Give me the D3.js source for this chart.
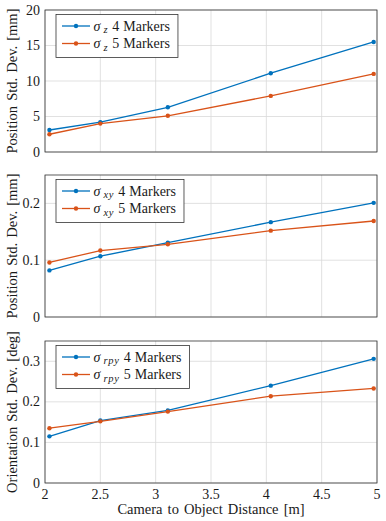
<!DOCTYPE html>
<html>
<head>
<meta charset="utf-8">
<script src="https://cdn.jsdelivr.net/npm/d3@7"></script>
<style>
body { margin: 0; background: #fff; }
</style>
</head>
<body>
<div id="chart"></div>
<script>
// distances (m) and std. devs
var distances = [2.04, 2.5, 3.11, 4.04, 4.97];
var xTicks = [2, 2.5, 3, 3.5, 4, 4.5, 5];

var sigmaZ4 = [3.1, 4.2, 6.3, 11.1, 15.5];
var sigmaZ5 = [2.5, 4.0, 5.1, 7.9, 11.0];
var sigmaXY4 = [0.082, 0.107, 0.131, 0.167, 0.201];
var sigmaXY5 = [0.096, 0.117, 0.128, 0.152, 0.169];
var sigmaRPY4 = [0.115, 0.154, 0.179, 0.240, 0.306];
var sigmaRPY5 = [0.135, 0.152, 0.176, 0.214, 0.233];

var seriesNames = ["4", "5"];
var colors = ["#0072BD", "#D95319"];

var panels = [
    { sub: "z", ylabel: "Position Std. Dev. [mm]", domain: [0, 20], ticks: [0, 5, 10, 15, 20], fmt: d3.format("d"), vals: [sigmaZ4, sigmaZ5], top: 10 },
    { sub: "xy", ylabel: "Position Std. Dev. [mm]", domain: [0, 0.25], ticks: [0, 0.1, 0.2], fmt: d => d === 0 ? "0" : d3.format(".1f")(d), vals: [sigmaXY4, sigmaXY5], top: 175 },
    { sub: "rpy", ylabel: "Orientation Std. Dev. [deg]", domain: [0, 0.35], ticks: [0, 0.1, 0.2, 0.3], fmt: d => d === 0 ? "0" : d3.format(".1f")(d), vals: [sigmaRPY4, sigmaRPY5], top: 341 }
];

var W = 386, H = 521;
var left = 45, right = 377, ph = 142;

var svg = d3.select("#chart").append("svg").attr("width", W).attr("height", H)
    .attr("font-family", "'Liberation Serif', 'Times New Roman', serif").attr("fill", "#1a1a1a");
var x = d3.scaleLinear().domain([2, 5]).range([left, right]);

panels.forEach(function (p, pi) {
    var y = d3.scaleLinear().domain(p.domain).range([p.top + ph, p.top]);
    var g = svg.append("g");

    // grid
    g.selectAll(".gx").data(xTicks).enter().append("line")
        .attr("x1", d => x(d)).attr("x2", d => x(d)).attr("y1", p.top).attr("y2", p.top + ph)
        .attr("stroke", "#d9d9d9").attr("stroke-width", 0.8);
    g.selectAll(".gy").data(p.ticks).enter().append("line")
        .attr("x1", left).attr("x2", right).attr("y1", d => y(d)).attr("y2", d => y(d))
        .attr("stroke", "#d9d9d9").attr("stroke-width", 0.8);

    // box
    g.append("rect").attr("x", left).attr("y", p.top).attr("width", right - left).attr("height", ph)
        .attr("fill", "none").attr("stroke", "#333").attr("stroke-width", 0.8);

    // y tick labels
    g.selectAll(".ty").data(p.ticks).enter().append("text")
        .attr("x", left - 5).attr("y", d => y(d) + 4.5).attr("text-anchor", "end")
        .attr("font-size", 14).text(p.fmt);

    // y label
    g.append("text").attr("transform", "translate(17," + (p.top + ph / 2) + ") rotate(-90)")
        .attr("text-anchor", "middle").attr("font-size", 14.5).attr("word-spacing", 1.5).text(p.ylabel);

    // series
    var line = d3.line().x((d, i) => x(distances[i])).y(d => y(d));
    p.vals.forEach(function (vals, si) {
        g.append("path").datum(vals).attr("fill", "none").attr("stroke", colors[si])
            .attr("stroke-width", 1.3).attr("d", line);
        g.selectAll(".pt" + si).data(vals).enter().append("circle")
            .attr("cx", (d, i) => x(distances[i])).attr("cy", d => y(d)).attr("r", 2.2)
            .attr("fill", colors[si]);
    });

    // legend
    var lx = 56, ly = p.top + 4.5;
    var box = g.append("rect").attr("x", lx).attr("y", ly).attr("height", 43)
        .attr("fill", "#fff").attr("stroke", "#333").attr("stroke-width", 0.8);
    var maxEnd = 0;
    seriesNames.forEach(function (name, si) {
        var ry = ly + 11.5 + si * 17.5;
        g.append("line").attr("x1", lx + 6).attr("x2", lx + 34).attr("y1", ry).attr("y2", ry)
            .attr("stroke", colors[si]).attr("stroke-width", 1.3);
        g.append("circle").attr("cx", lx + 20).attr("cy", ry).attr("r", 2.2).attr("fill", colors[si]);
        var t = g.append("text").attr("x", lx + 37.5).attr("y", ry + 4.5).attr("font-size", 14);
        t.append("tspan").attr("font-style", "italic").text("σ");
        t.append("tspan").attr("font-style", "italic").attr("font-size", 10.5).attr("letter-spacing", 0.8)
            .attr("dx", 3).attr("dy", 2.5).text(p.sub);
        t.append("tspan").attr("dy", -2.5).attr("dx", 4).text(name);
        t.append("tspan").attr("dx", 4).text("Markers");
        var bb = t.node().getBBox();
        maxEnd = Math.max(maxEnd, bb.x + bb.width);
    });
    box.attr("width", maxEnd - lx + 8);

    // x ticks only on bottom panel
    if (pi === panels.length - 1) {
        g.selectAll(".tx").data(xTicks).enter().append("text")
            .attr("x", d => x(d)).attr("y", p.top + ph + 15.5).attr("text-anchor", "middle")
            .attr("font-size", 14).text(d => d);
        g.append("text").attr("x", (left + right) / 2).attr("y", p.top + ph + 31)
            .attr("text-anchor", "middle").attr("font-size", 14.5).attr("word-spacing", 1.5)
            .text("Camera to Object Distance [m]");
    }
});
</script>
</body>
</html>
